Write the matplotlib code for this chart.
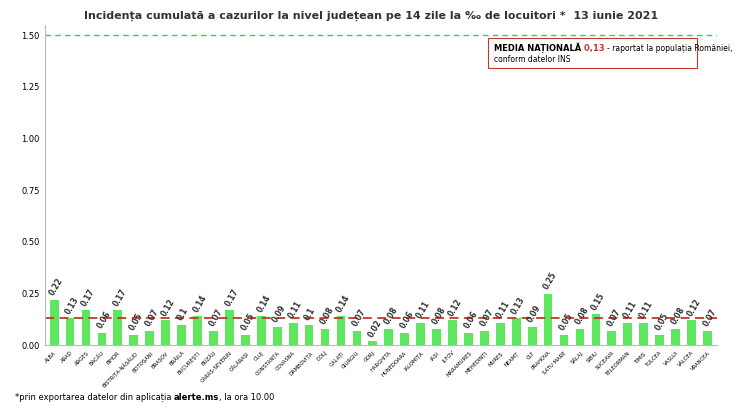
import matplotlib
matplotlib.use("Agg")
import matplotlib.pyplot as plt

counties = ["ALBA","ARAD","ARGEȘ","BACĂU","BIHOR","BISTRIȚA-NĂSĂUD","BOTOȘANI","BRAȘOV","BRĂILA",
 "BUCUREȘTI","BUZĂU","CARAȘ-SEVERIN","CĂLĂRAȘI","CLUJ","CONSTANȚA","COVASNA","DÂMBOVIȚA","DOLJ",
 "GALAȚI","GIURGIU","GORJ","HARGHITA","HUNEDOARA","IALOMIȚA","IAȘI","ILFOV","MARAMUREȘ","MEHEDINȚI",
 "MUREȘ","NEAMȚ","OLT","PRAHOVA","SATU MARE","SĂLAJ","SIBIU","SUCEAVA","TELEORMAN","TIMIȘ","TULCEA",
 "VASLUI","VÂLCEA","VRANCEA"]
values = [0.22,0.13,0.17,0.06,0.17,0.05,0.07,0.12,0.1,0.14,0.07,0.17,0.05,0.14,0.09,0.11,0.1,0.08,
 0.14,0.07,0.02,0.08,0.06,0.11,0.08,0.12,0.06,0.07,0.11,0.13,0.09,0.25,0.05,0.08,0.15,0.07,0.11,
 0.11,0.05,0.08,0.12,0.07]
national = 0.13
threshold = 1.5

fig = plt.figure(figsize=(7.43,4.16), dpi=100)
ax = fig.add_axes([0.06,0.17,0.905,0.77])
x = range(len(counties))
ax.bar(x, values, width=0.55, color="#5ee65e")
for i, v in enumerate(values):
    ax.text(i+0.1, v+0.012, f"{v:g}", ha="left", va="bottom", fontsize=5.5, fontweight="bold",
            color="#333", rotation=60, rotation_mode="anchor")
ax.axhline(national, color="#c0392b", ls=(0,(5,3)), lw=1.3)
ax.axhline(threshold, color="#2ecc71", ls=(0,(4,3)), lw=1)
ax.set_xlim(-0.6, len(counties)-0.4)
ax.set_ylim(0, 1.55)
ticks = [0,0.25,0.5,0.75,1.0,1.25,1.5]
ax.set_yticks(ticks)
ax.set_yticklabels([f"{t:.2f}" for t in ticks], fontsize=6)
ax.set_xticks(list(x))
ax.set_xticklabels(counties, rotation=45, ha="right", rotation_mode="anchor", fontsize=3.8)
ax.tick_params(length=0)
for s in ["top","right"]:
    ax.spines[s].set_visible(False)
for s in ["left","bottom"]:
    ax.spines[s].set_color("#bbb")
fig.text(0.5, 0.955, "Incidența cumulată a cazurilor la nivel județean pe 14 zile la ‰ de locuitori *  13 iunie 2021",
         ha="center", fontsize=8, fontweight="bold", color="#333")
t1 = ax.text(0.668, 0.945, "MEDIA NAȚIONALĂ ", transform=ax.transAxes, fontsize=6, fontweight="bold", va="top")
t2 = ax.annotate("0,13 ", xy=(1, 0), xycoords=t1, fontsize=6, fontweight="bold", color="#c0392b", va="bottom")
t3 = ax.annotate("- raportat la populația României,", xy=(1, 0), xycoords=t2, fontsize=5.5, va="bottom")
ax.text(0.668, 0.905, "conform datelor INS", transform=ax.transAxes, fontsize=5.5, va="top")
ax.add_patch(plt.Rectangle((0.66,0.865),0.31,0.095,transform=ax.transAxes,fill=False,ec="#c0392b",lw=0.8))
f1 = fig.text(0.02, 0.04, "*prin exportarea datelor din aplicația ", fontsize=6)
f2 = fig.text(0, 0, "alerte.ms", fontsize=6, fontweight="bold")
f2.set_position((0, 0)); f2.remove()
a2 = plt.annotate("alerte.ms", xy=(1, 0), xycoords=f1, fontsize=6, fontweight="bold", va="bottom", annotation_clip=False)
plt.annotate(", la ora 10.00", xy=(1, 0), xycoords=a2, fontsize=6, va="bottom", annotation_clip=False)
fig.savefig("out.png", dpi=100)
